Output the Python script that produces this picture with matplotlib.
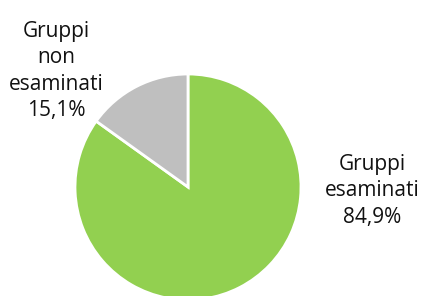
import matplotlib.pyplot as plt

labels = ['Gruppi\nesaminati\n84,9%', 'Gruppi\nnon\nesaminati\n15,1%']
values = [84.9, 15.1]
colors = ['#92D050', '#BFBFBF']

fig = plt.figure(figsize=(4.23, 2.96), dpi=100)
ax = fig.add_axes([0, 0, 1, 1])

ax.pie(values, colors=colors, startangle=90, counterclock=False,
       center=(188, 296 - 187), radius=113,
       wedgeprops=dict(edgecolor='white', linewidth=2))
ax.set_xlim(0, 423)
ax.set_ylim(0, 296)
ax.set_aspect('auto')
ax.axis('off')

ax.text(372, 296 - 191, labels[0], ha='center', va='center',
        fontsize=15, family='Open Sans', linespacing=1.32, color='#111111')
ax.text(56, 296 - 71, labels[1], ha='center', va='center',
        fontsize=15, family='Open Sans', linespacing=1.32, color='#111111')

fig.savefig('out.png', dpi=100)
